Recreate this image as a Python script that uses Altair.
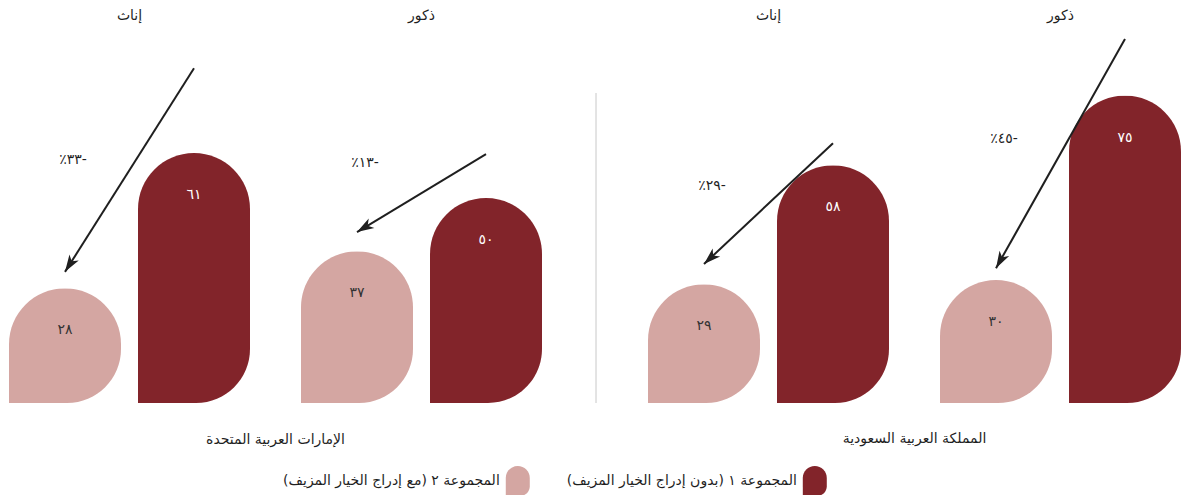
import math
import altair as alt
import pandas as pd

# ---------------- data ----------------
countries = ["الإمارات العربية المتحدة", "المملكة العربية السعودية"]
genders = ["إناث", "ذكور"]
series_names = [
    "المجموعة ١ (بدون إدراج الخيار المزيف)",
    "المجموعة ٢ (مع إدراج الخيار المزيف)",
]
# [country][gender]
group1_values = [[61, 50], [58, 75]]
group2_values = [[28, 37], [29, 30]]
change_values = [[-33, -13], [-29, -45]]
# annotation arrow levels (in value units)
arrow_from = [[81.7, 60.7], [63.4, 88.8]]
arrow_to = [[32.0, 41.7], [33.9, 32.9]]
change_label_level = [[59.3, 58.6], [52.9, 64.4]]

DARK = "#82242a"
LIGHT = "#d4a6a2"
INK = "#1f1f1f"
FONT = "DejaVu Sans"

W = 533          # panel plot width
H = 375          # panel plot height
Y_MAX = 91.5
BAR_STEP = 129   # px between light and dark bar centres
AR_DIGITS = "٠١٢٣٤٥٦٧٨٩"


def ar(n):
    return "".join(AR_DIGITS[int(c)] for c in str(abs(int(n))))


bar_rows, arrow_rows, head_rows, pct_rows = [], [], [], []
k = H / Y_MAX
for ci, c in enumerate(countries):
    for gi, g in enumerate(genders):
        for si, vals in enumerate([group1_values, group2_values]):
            v = vals[ci][gi]
            bar_rows.append(dict(country=c, gender=g, series=series_names[si], value=v, label=ar(v)))
        arrow_rows.append(dict(country=c, gender=g, series=series_names[0], level=arrow_from[ci][gi]))
        arrow_rows.append(dict(country=c, gender=g, series=series_names[1], level=arrow_to[ci][gi]))
        dy = (arrow_from[ci][gi] - arrow_to[ci][gi]) * k
        ang = (math.degrees(math.atan2(-BAR_STEP, -dy)) + 360) % 360
        head_rows.append(dict(country=c, gender=g, series=series_names[1], level=arrow_to[ci][gi], angle=ang))
        pct_rows.append(dict(country=c, gender=g, series=series_names[1],
                             level=change_label_level[ci][gi],
                             text="٪" + ar(change_values[ci][gi]) + "-"))

bars_df = pd.DataFrame(bar_rows)
arrow_df = pd.DataFrame(arrow_rows)
head_df = pd.DataFrame(head_rows)
pct_df = pd.DataFrame(pct_rows)

ARROW_PATH = "M0,0 L0.55,1.7 L0,1.25 L-0.55,1.7 Z"
SWATCH_PATH = "M-0.8,1 L-0.8,-0.2 A0.8,0.8 0 0 1 0.8,-0.2 L0.8,0.35 A0.65,0.65 0 0 1 0.15,1 Z"

color_scale = alt.Scale(domain=series_names, range=[DARK, LIGHT])


def panel(ci):
    c = countries[ci]
    x = alt.X("gender:N", sort=genders,
              scale=alt.Scale(paddingInner=51 / 292, paddingOuter=0),
              axis=alt.Axis(orient="top", title=None, domain=False, ticks=False, tickSize=0,
                            labelPadding=6, labelAngle=0, labelFont=FONT, labelFontSize=14,
                            labelColor=INK, grid=False))
    xo = alt.XOffset("series:N", sort=[series_names[1], series_names[0]],
                     scale=alt.Scale(paddingInner=17 / 129, paddingOuter=0))
    ysc = alt.Scale(domain=[0, Y_MAX])

    bars = alt.Chart(bars_df).transform_filter(alt.datum.country == c).mark_bar(
        cornerRadiusTopLeft=56, cornerRadiusTopRight=56, cornerRadiusBottomRight=54
    ).encode(x=x, xOffset=xo, y=alt.Y("value:Q", scale=ysc, axis=None),
             color=alt.Color("series:N", scale=color_scale, legend=None))

    vals = alt.Chart(bars_df).transform_filter(alt.datum.country == c).mark_text(
        dy=42, fontSize=14, font=FONT, baseline="middle"
    ).encode(x=x, xOffset=xo, y=alt.Y("value:Q", scale=ysc, axis=None), text="label:N",
             color=alt.condition(alt.datum.series == series_names[0], alt.value("white"), alt.value("#333333")))

    line = alt.Chart(arrow_df).transform_filter(alt.datum.country == c).mark_line(
        color=INK, strokeWidth=2
    ).encode(x=x, xOffset=xo, y=alt.Y("level:Q", scale=ysc, axis=None), detail="gender:N")

    head = alt.Chart(head_df).transform_filter(alt.datum.country == c).mark_point(
        shape=ARROW_PATH, filled=True, size=400, color=INK, opacity=1
    ).encode(x=x, xOffset=xo, y=alt.Y("level:Q", scale=ysc, axis=None),
             angle=alt.Angle("angle:Q", scale=None))

    pct = alt.Chart(pct_df).transform_filter(alt.datum.country == c).mark_text(
        dx=8, fontSize=14, font=FONT, color=INK, baseline="middle"
    ).encode(x=x, xOffset=xo, y=alt.Y("level:Q", scale=ysc, axis=None), text="text:N")

    layers = [bars, vals, line, head, pct]
    if ci == 0:
        divider = alt.Chart(pd.DataFrame({"d": [0]})).mark_rule(color="#c8c8c8", strokeWidth=1).encode(
            x=alt.value(W + 54), y=alt.value(65), y2=alt.value(H))
        layers.append(divider)

    return alt.layer(*layers).properties(
        width=W, height=H,
        title=alt.TitleParams(c, orient="bottom", offset=29, fontSize=14, font=FONT,
                              fontWeight="normal", color=INK, anchor="middle"))


top = alt.hconcat(panel(0), panel(1), spacing=106, bounds="flush")

leg_df = pd.DataFrame({"series": series_names, "text": [s + "\u200f" for s in series_names]})
leg_x = alt.X("series:N", sort=[series_names[1], series_names[0]],
              scale=alt.Scale(type="band", paddingInner=0.054, paddingOuter=1, align=0.62), axis=None)
sw = alt.Chart(leg_df).mark_point(shape=SWATCH_PATH, filled=True, size=900, opacity=1).encode(
    x=leg_x, color=alt.Color("series:N", scale=color_scale, legend=None))
lt = alt.Chart(leg_df).mark_text(align="right", dx=-18, fontSize=14, font=FONT, color=INK,
                                 baseline="middle").encode(x=leg_x, text="text:N")
legend = alt.layer(sw, lt).properties(width=2 * W + 106, height=30)

chart = alt.vconcat(top, legend, spacing=19).properties(
    padding={"left": 9, "top": 8, "right": 0, "bottom": 0}
).configure_view(strokeWidth=0)

chart.save("out.html", embed_options={"renderer": "svg", "actions": False})
